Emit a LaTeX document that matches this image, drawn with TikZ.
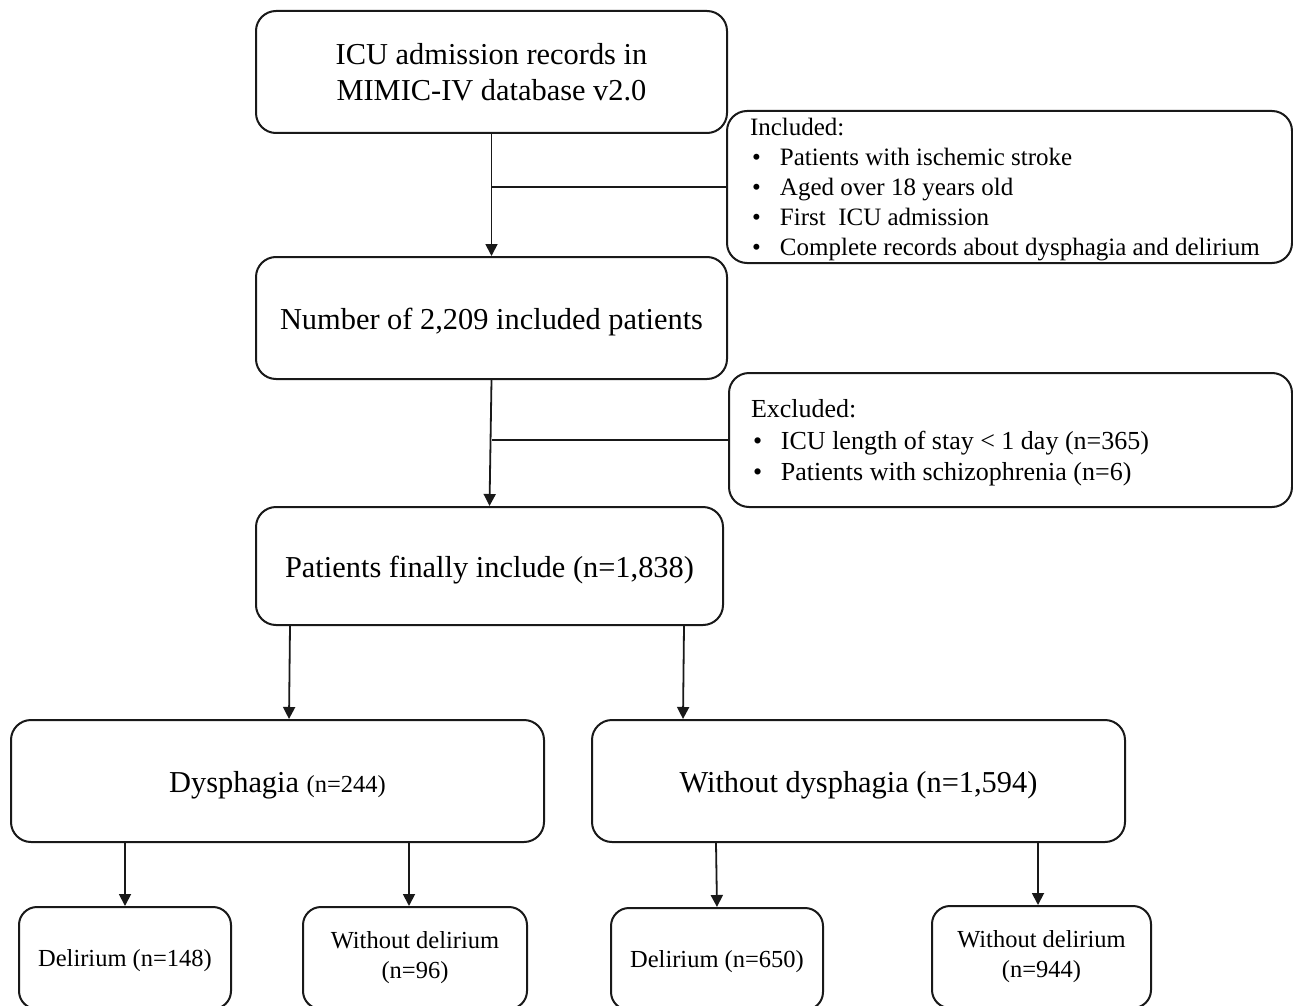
\documentclass[tikz,border=0pt]{standalone}
\usepackage{fontspec}
\setmainfont{Liberation Serif}
\usetikzlibrary{arrows.meta}
\newcommand{\bul}{\makebox[30pt][l]{\hspace{2pt}\textbullet}}
\newcommand{\dn}[2][4pt]{\raisebox{-#1}[\height][\depth]{#2}}
\begin{document}
\begin{tikzpicture}[x=1pt,y=-1pt,
  box/.style={draw=black!90, line width=2pt, rounded corners=20pt, align=center, inner sep=0pt},
  big/.style={font=\fontsize{30.4}{36}\selectfont},
  small/.style={font=\fontsize{24.5}{30}\selectfont},
  arr/.style={line width=1.8pt, draw=black!90, -{Triangle[length=12pt,width=12pt]}},
  ln/.style={line width=1.8pt, draw=black!90}]
\useasboundingbox (0,0) rectangle (1293,1006);
\clip (0,0) rectangle (1293,1006);

\node[box, big, minimum width=471pt, minimum height=122pt] (top) at (491.5,72)
  {ICU admission records in\\MIMIC-IV database v2.0};
\node[box, font=\fontsize{25}{30}\selectfont, minimum width=565pt, minimum height=152pt] (inc) at (1009.5,187)
  {\dn[2pt]{\makebox[519pt][l]{\begin{tabular}{@{}l@{}}
   Included:\\
   \bul Patients with ischemic stroke\\
   \bul Aged over 18 years old\\
   \bul First\ \ ICU admission\\
   \bul Complete records about dysphagia and delirium
   \end{tabular}}}};
\node[box, big, minimum width=471pt, minimum height=122pt] (b2) at (491.5,318)
  {\dn{Number of 2,209 included patients}};
\node[box, font=\fontsize{26}{31.5}\selectfont, minimum width=563pt, minimum height=134pt] (exc) at (1010.5,440)
  {\dn[3pt]{\makebox[519pt][l]{\begin{tabular}{@{}l@{}}
   Excluded:\\
   \bul ICU length of stay < 1 day (n=365)\\
   \bul Patients with schizophrenia (n=6)
   \end{tabular}}}};
\node[box, big, minimum width=467pt, minimum height=118pt] (b3) at (489.5,566)
  {\dn{Patients finally include (n=1,838)}};
\node[box, big, minimum width=533pt, minimum height=122pt] (dys) at (277.5,781)
  {\dn{Dysphagia {\fontsize{24.5}{30}\selectfont(n=244)}}};
\node[box, big, minimum width=533pt, minimum height=122pt] (wod) at (858.5,781)
  {\dn{Without dysphagia (n=1,594)}};
\node[box, small, rounded corners=18pt, minimum width=212pt, minimum height=102pt] (d1) at (125,958)
  {\dn[3pt]{Delirium (n=148)}};
\node[box, small, rounded corners=18pt, minimum width=224pt, minimum height=102pt] (wd1) at (415,958)
  {Without delirium\\(n=96)};
\node[box, small, rounded corners=18pt, minimum width=212pt, minimum height=102pt] (d2) at (717,959)
  {\dn[3pt]{Delirium (n=650)}};
\node[box, small, rounded corners=18pt, minimum width=219pt, minimum height=102pt] (wd2) at (1041.5,957)
  {Without delirium\\(n=944)};

\draw[arr] (top.south) -- (b2.north);
\draw[ln] (inc.west) -- (inc.west -| top.south);
\draw[arr] (b2.south) -- (b3.north);
\draw[ln] (exc.west) -- (exc.west -| b2.south);
\draw[arr] ([xshift=35pt]b3.south west) -- ([xshift=279pt]dys.north west);
\draw[arr] ([xshift=429pt]b3.south west) -- ([xshift=92pt]wod.north west);
\draw[arr] ([xshift=115pt]dys.south west) -- ([xshift=107pt]d1.north west);
\draw[arr] ([xshift=399pt]dys.south west) -- ([xshift=107pt]wd1.north west);
\draw[arr] ([xshift=125pt]wod.south west) -- (d2.north);
\draw[arr] ([xshift=447pt]wod.south west) -- ([xshift=107pt]wd2.north west);
\end{tikzpicture}
\end{document}
